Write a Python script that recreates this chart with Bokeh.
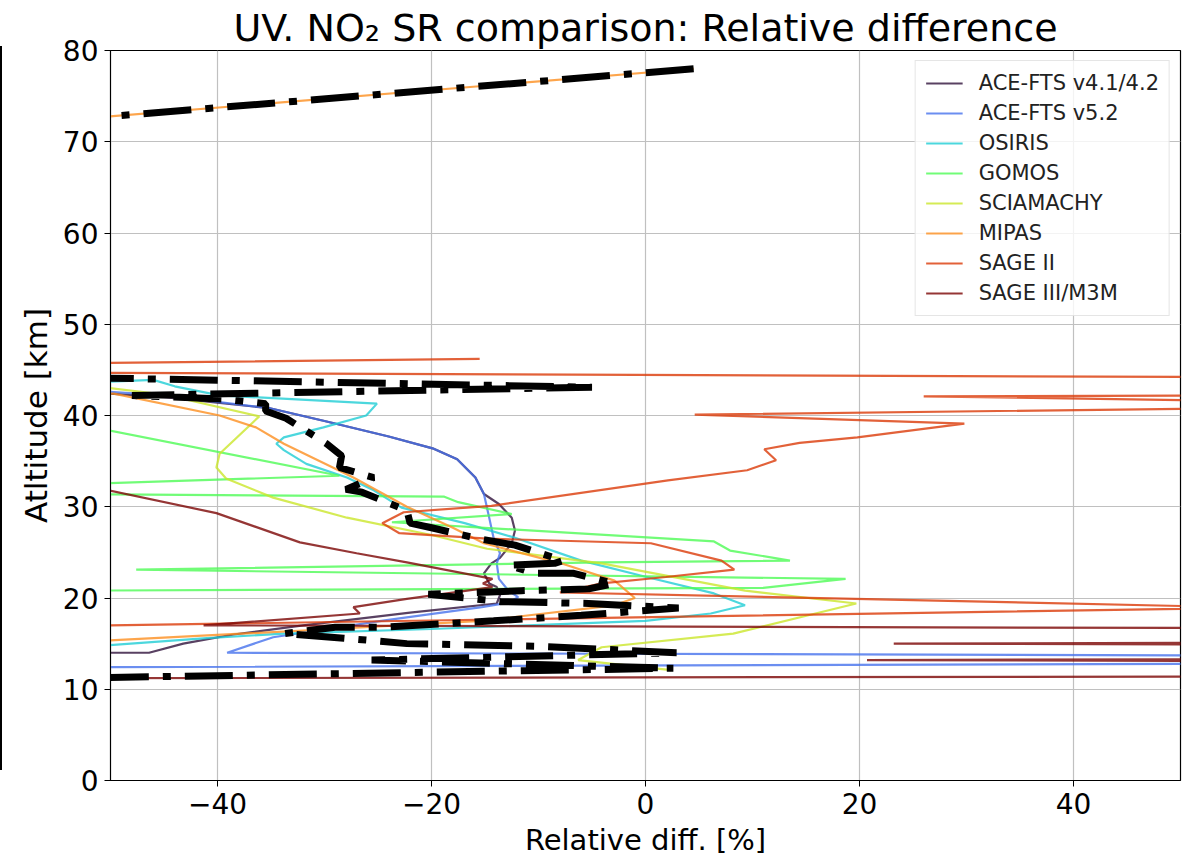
from bokeh.plotting import figure
from bokeh.models import Range1d, FixedTicker, Div
from bokeh.layouts import row
from bokeh.embed import file_html
from bokeh.resources import INLINE

FONT = "DejaVu Sans"

# ---- data: relative difference [%] vs altitude [km] ----
ace41_x = [-55, -45, -35.1, -30.0, -24.0, -19.9, -17.6, -15.9, -15.1, -13.7, -12.5, -12.2, -12.5, -13.6, -14.4, -15.1, -14.6, -13.9, -13.6, -13.9, -22, -32, -38.5, -43.2, -46.4, -55]
ace41_z = [42.8, 42.0, 40.8, 39.4, 37.7, 36.4, 35.2, 33.2, 31.4, 30.3, 28.8, 27.4, 26.0, 24.4, 23.8, 22.7, 21.6, 21.2, 20.3, 19.4, 18.4, 17.0, 16.0, 15.0, 14.0, 14.0]

ace52_x = [-55, -45, -35.1, -30.0, -24.0, -19.9, -17.6, -15.9, -15.1, -14.7, -14.2, -13.6, -13.9, -13.7, -12.8, -11.9, -12.8, -15.3, -24.7, -34.8, -39.1, 55, 55, -55]
ace52_z = [43.0, 42.2, 40.8, 39.4, 37.7, 36.4, 35.2, 33.2, 31.4, 29.3, 26.6, 24.9, 23.8, 22.1, 20.8, 20.1, 19.5, 19.0, 17.5, 15.7, 14.0, 13.7, 12.8, 12.4]

osiris_x = [-55, -46, -44, -39.8, -25.1, -26.1, -30.1, -33.8, -34.5, -33.8, -31.7, -27.9, -25.4, -22.8, -16.9, -12.2, -6.0, 0.1, 6.4, 9.3, 6.1, 0.0, -20, -33.8, -41, -50.4, -55]
osiris_z = [43.5, 43.9, 43.2, 42.2, 41.3, 40.0, 38.7, 37.6, 36.9, 36.2, 34.7, 33.2, 31.8, 29.9, 28.2, 26.6, 24.1, 22.3, 20.5, 19.2, 18.3, 17.5, 16.6, 16.1, 15.6, 14.8, 14.6]

gomos_x = [-55, -28.6, -55, -55, -18.8, -17.5, -12.5, -23.7, 6.4, 7.9, 13.5, -4.1, -47.6, 18.7, 11.0, -55]
gomos_z = [39.5, 33.4, 32.4, 31.4, 31.1, 30.5, 29.2, 28.3, 26.2, 25.2, 24.1, 23.9, 23.1, 22.1, 21.1, 20.8]

sciamachy_x = [-55, -45, -36.1, -39.8, -40.1, -39.2, -34.8, -27.9, -20.0, -14.8, -4.1, 9.3, 19.7, 8.2, -4.1, -6.3, 2.4]
sciamachy_z = [43.7, 42.3, 39.9, 35.8, 34.3, 33.1, 31.0, 28.8, 26.9, 25.4, 23.8, 20.8, 19.4, 16.1, 14.6, 13.2, 12.1]

mipas_x = [4.5, -55, -55, -49.7, -39.8, -36.4, -33.8, -27.3, -22.3, -18.0, -15.1, -7.9, -2.9, -1.0, -2.9, -15.3, -29.3, -50.8, -55]
mipas_z = [78.0, 72.3, 42.6, 42.4, 40.0, 38.7, 36.9, 33.2, 30.0, 27.7, 26.0, 23.8, 21.9, 20.0, 19.2, 17.5, 16.6, 15.3, 15.1]

sage2_x = [-15.5, -55, -55, 55, 55, 26.0, 55, 55, 4.6, 29.8, 19.8, 14.4, 11.1, 12.2, 9.5, 2.1, -14.4, -22.6, -24.6, -23.0, -14.8, 0.5, 7.1, 8.3, 1.9, -4.1, -8.0, 55, 55, -55]
sage2_z = [46.2, 45.7, 44.7, 44.2, 42.2, 42.1, 41.6, 40.8, 40.1, 39.1, 37.6, 37.0, 36.3, 35.1, 34.0, 32.9, 30.1, 29.4, 28.2, 27.1, 26.5, 26.0, 24.1, 23.1, 22.3, 21.6, 20.6, 19.0, 18.9, 16.9]

sage3_x = [-55, -40.1, -32.3, -27.0, -22.3, -14.3, -15.2, -14.3, -22.3, -27.3, -26.7, -41.3, 55, 55, 23.2, 55, 55, 20.7, 55, 55, -55]
sage3_z = [33.0, 29.3, 26.1, 24.9, 23.9, 22.1, 21.6, 21.2, 19.9, 19.0, 18.3, 17.0, 16.7, 15.1, 15.0, 14.9, 13.3, 13.2, 13.1, 11.4, 11.2]

mean_x = [4.5, -55, -55, -5.0, -48, -39.5, -35.5, -35.5, -33.6, -29.8, -28.4, -28.6, -25.4, -28.0, -26.5, -22.3, -22.0, -20.0, -15.6, -12.2, -7.7, -8.5, -12.8, -10.4, -6.7, -2.9, -5.3, -11.6, -20.3, -13.5, -5.3, 3.1, -6.0, -14.2, -24.7, -29.0, -33.8, -28.2, -22.3, -9.7, 2.9, -25.6, 2.6, -55]
mean_z = [78.0, 72.3, 44.2, 43.1, 42.2, 41.8, 41.3, 40.5, 39.7, 36.9, 35.6, 34.3, 33.2, 31.9, 31.6, 29.6, 28.2, 27.7, 26.5, 25.8, 24.1, 23.8, 23.6, 22.7, 22.7, 21.6, 21.0, 20.8, 20.4, 19.6, 19.4, 18.9, 18.1, 17.5, 16.8, 16.8, 16.1, 15.6, 15.0, 14.7, 14.0, 13.2, 12.3, 11.2]

labels = ["ACE-FTS v4.1/4.2", "ACE-FTS v5.2", "OSIRIS", "GOMOS", "SCIAMACHY", "MIPAS", "SAGE II", "SAGE III/M3M"]
colors = ["#30123b", "#4672ec", "#1fcdd4", "#4dfb55", "#cbe62a", "#fd8f1f", "#db3a08", "#7a0403"]
series_x = [ace41_x, ace52_x, osiris_x, gomos_x, sciamachy_x, mipas_x, sage2_x, sage3_x]
series_z = [ace41_z, ace52_z, osiris_z, gomos_z, sciamachy_z, mipas_z, sage2_z, sage3_z]

x_ticks = [-40, -20, 0, 20, 40]
y_ticks = [0, 10, 20, 30, 40, 50, 60, 70, 80]

p = figure(width=1190, height=866, output_backend="svg", toolbar_location=None,
           x_range=Range1d(-50, 50), y_range=Range1d(0, 80),
           min_border_left=108, min_border_right=12, min_border_top=50, min_border_bottom=86,
           title="UV. NO\u2082 SR comparison: Relative difference")

p.title.text_font = FONT
p.title.text_font_size = "38px"
p.title.text_font_style = "normal"
p.title.align = "center"
p.title.text_color = "black"
p.title.standoff = 2

for xs, zs, lab, col in zip(series_x, series_z, labels, colors):
    p.line(xs, zs, line_color=col, line_alpha=0.8, line_width=2.2, legend_label=lab)

p.line(mean_x, mean_z, line_color="black", line_width=7, line_dash="48 14 8 14")

p.xaxis.ticker = FixedTicker(ticks=x_ticks)
p.yaxis.ticker = FixedTicker(ticks=y_ticks)
p.xaxis.major_label_overrides = {t: (str(t).replace("-", "\u2212")) for t in x_ticks}
p.xaxis.axis_label = "Relative diff. [%]"
p.yaxis.axis_label = "Atltitude [km]"
for ax in (p.xaxis[0], p.yaxis[0]):
    ax.axis_label_text_font = FONT
    ax.axis_label_text_font_size = "29px"
    ax.axis_label_text_font_style = "normal"
    ax.axis_label_text_color = "black"
    ax.major_label_text_font = FONT
    ax.major_label_text_font_size = "28px"
    ax.major_label_text_color = "black"
    ax.major_tick_in = 0
    ax.major_tick_out = 6
    ax.minor_tick_in = 0
    ax.minor_tick_out = 0
    ax.axis_line_color = "black"
    ax.major_tick_line_color = "black"
    ax.major_label_standoff = 6
    ax.axis_label_standoff = 6
p.yaxis[0].axis_label_text_font_size = "31px"

p.xgrid.grid_line_color = "#c0c0c0"
p.ygrid.grid_line_color = "#c0c0c0"
p.xgrid.grid_line_width = 1.2
p.ygrid.grid_line_width = 1.2
p.outline_line_color = "black"
p.outline_line_width = 1.2
p.background_fill_color = "white"
p.border_fill_color = "white"

lg = p.legend[0]
lg.location = "top_right"
lg.margin = 10
lg.padding = 10
lg.spacing = 6
lg.glyph_width = 37
lg.glyph_height = 24
lg.label_height = 24
lg.label_standoff = 16
lg.label_text_font = FONT
lg.label_text_font_size = "21px"
lg.label_text_color = "#222222"
lg.border_line_color = "#cccccc"
lg.border_line_width = 1.2
lg.background_fill_alpha = 0.8

edge = Div(width=2, height=724, margin=(46, 0, 0, 0), styles={"background-color": "black"})
layout = row(edge, p, spacing=0)

open("out.html", "w").write(file_html(layout, INLINE))
